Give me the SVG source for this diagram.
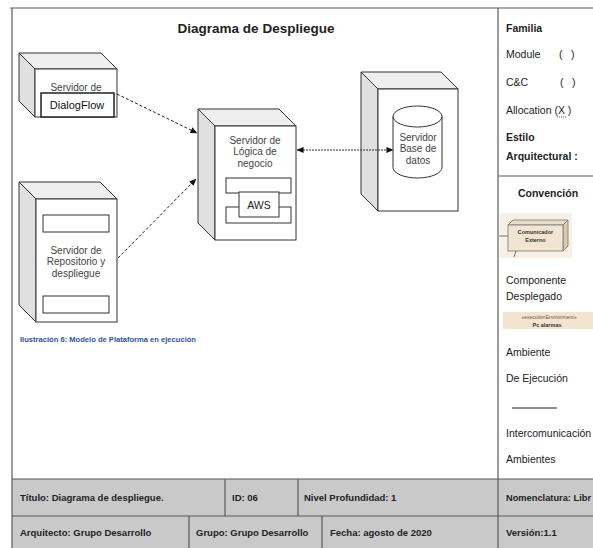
<svg xmlns="http://www.w3.org/2000/svg" width="593" height="548" viewBox="0 0 593 548">
<style>
.frame{fill:none;stroke:#5a5a5a;stroke-width:1.2}
.front{fill:#fff;stroke:#333;stroke-width:1}
.top{fill:#efefef;stroke:#333;stroke-width:1}
.side{fill:#e0e0e0;stroke:#333;stroke-width:1}
.box{fill:#fff;stroke:#333;stroke-width:1}
.nt{font-family:"Liberation Sans",Arial,sans-serif;font-size:10px;fill:#444;text-anchor:middle}
.rt{font-family:"Liberation Sans",Arial,sans-serif;font-size:10.5px;fill:#222}
.rb{font-family:"Liberation Sans",Arial,sans-serif;font-size:10.5px;fill:#222;font-weight:bold}
.tb{font-family:"Liberation Sans",Arial,sans-serif;font-size:9.5px;fill:#222;font-weight:bold}
.conn{fill:none;stroke:#222;stroke-width:1;stroke-dasharray:3,2}
</style>
<defs>
<marker id="arr" viewBox="0 0 8 8" refX="7.5" refY="4" markerWidth="7" markerHeight="7" orient="auto-start-reverse" markerUnits="userSpaceOnUse">
<path d="M0,0.5 L8,4 L0,7.5 Z" fill="#111"/>
</marker>
</defs>
<rect x="0" y="0" width="593" height="548" fill="#fff"/>

<!-- frame and table -->
<g id="frame">
<rect x="12" y="479" width="581" height="69" fill="#c9c9c9"/>
<line class="frame" x1="10" y1="8" x2="593" y2="8"/>
<line class="frame" x1="12" y1="8" x2="12" y2="548"/>
<line class="frame" x1="498" y1="8" x2="498" y2="548"/>
<line class="frame" x1="498" y1="176" x2="593" y2="176"/>
<line class="frame" x1="12" y1="479" x2="593" y2="479"/>
<line class="frame" x1="12" y1="516" x2="593" y2="516"/>
<line class="frame" x1="225" y1="479" x2="225" y2="516"/>
<line class="frame" x1="298" y1="479" x2="298" y2="516"/>
<line class="frame" x1="189" y1="516" x2="189" y2="548"/>
<line class="frame" x1="322" y1="516" x2="322" y2="548"/>
</g>

<text x="256" y="33" font-family="Liberation Sans,Arial,sans-serif" font-size="13.5" font-weight="bold" fill="#222" text-anchor="middle">Diagrama de Despliegue</text>

<!-- Servidor de DialogFlow -->
<g id="node-dialogflow">
<polygon class="top" points="19,53 101,53 117,69 35,69"/>
<polygon class="side" points="19,53 35,69 35,117 19,101"/>
<rect class="front" x="35" y="69" width="82" height="48"/>
<text class="nt" x="76" y="91">Servidor de</text>
<rect x="41" y="93" width="73" height="24" fill="#fff" stroke="#222" stroke-width="1.5"/>
<text x="77" y="109" font-family="Liberation Sans,Arial,sans-serif" font-size="11" fill="#111" text-anchor="middle">DialogFlow</text>
</g>

<!-- Servidor de Repositorio y despliegue -->
<g id="node-repositorio">
<polygon class="top" points="19,182 100,182 117,199 36,199"/>
<polygon class="side" points="19,182 36,199 36,322 19,305"/>
<rect class="front" x="36" y="199" width="81" height="123"/>
<rect class="box" x="43" y="215" width="66" height="17"/>
<text class="nt" x="76" y="253.5">Servidor de</text>
<text class="nt" x="76" y="265">Repositorio y</text>
<text class="nt" x="76" y="276.5">despliegue</text>
<rect class="box" x="43" y="296" width="66" height="17"/>
</g>

<!-- Servidor de Logica de negocio -->
<g id="node-logica">
<polygon class="top" points="198,109 279,109 296,126 215,126"/>
<polygon class="side" points="198,109 215,126 215,240 198,223"/>
<rect class="front" x="215" y="126" width="81" height="114"/>
<text class="nt" x="255" y="143.5">Servidor de</text>
<text class="nt" x="255" y="155">Lógica de</text>
<text class="nt" x="255" y="166.5">negocio</text>
<rect class="box" x="226" y="178" width="65" height="15"/>
<rect class="box" x="226" y="207" width="65" height="16"/>
<rect class="box" x="239" y="192" width="40" height="25"/>
<text x="259" y="208.5" font-family="Liberation Sans,Arial,sans-serif" font-size="10.5" fill="#222" text-anchor="middle">AWS</text>
</g>

<!-- Servidor Base de datos -->
<g id="node-basedatos">
<polygon class="top" points="361,72 441,72 458,89 378,89"/>
<polygon class="side" points="361,72 378,89 378,211 361,194"/>
<rect class="front" x="378" y="89" width="80" height="122"/>
<path d="M393,116.5 L393,167.5 A24.5,10.5 0 0 0 442,167.5 L442,116.5 A24.5,10.5 0 0 0 393,116.5 Z" fill="#fff" stroke="#333"/>
<path d="M393,116.5 A24.5,10.5 0 0 0 442,116.5" fill="none" stroke="#333"/>
<text class="nt" x="418" y="140.5">Servidor</text>
<text class="nt" x="418" y="152">Base de</text>
<text class="nt" x="418" y="163.5">datos</text>
</g>

<!-- connectors -->
<g id="connectors">
<line class="conn" x1="117" y1="94" x2="197" y2="133" marker-end="url(#arr)"/>
<line class="conn" x1="118" y1="258" x2="196" y2="179" marker-end="url(#arr)"/>
<line x1="297" y1="150" x2="393" y2="150" stroke="#333" stroke-width="1" stroke-dasharray="2,1" marker-start="url(#arr)" marker-end="url(#arr)"/>
</g>

<text x="20" y="342" font-family="Liberation Sans,Arial,sans-serif" font-size="7.5" font-weight="bold" fill="#2f5496" textLength="176" lengthAdjust="spacingAndGlyphs">Ilustración 6: Modelo de Plataforma en ejecución</text>

<!-- right column -->
<g id="legend">
<text class="rb" x="506" y="32">Familia</text>
<text class="rt" x="506" y="58">Module</text>
<text class="rt" x="559" y="58">(</text>
<text class="rt" x="571" y="58">)</text>
<text class="rt" x="506" y="86">C&amp;C</text>
<text class="rt" x="560" y="86">(</text>
<text class="rt" x="572" y="86">)</text>
<text class="rt" x="506" y="114">Allocation (X )</text>
<line x1="557" y1="117" x2="566" y2="117" stroke="#3a6fd0" stroke-width="1" stroke-dasharray="1,1"/>
<text class="rb" x="506" y="141">Estilo</text>
<text class="rb" x="506" y="160">Arquitectural :</text>
<text class="rb" x="548" y="197" text-anchor="middle">Convención</text>

<g id="icon-comunicador">
<rect x="500" y="213" width="72" height="45" fill="#f8efe5"/>
<polygon points="508,225 513,220 568,220 563,225" fill="#eadcc6" stroke="#777" stroke-width="0.8"/>
<polygon points="563,225 568,220 568,246 563,251" fill="#dccab0" stroke="#777" stroke-width="0.8"/>
<rect x="508" y="225" width="55" height="26" fill="#f1e4d0" stroke="#777" stroke-width="0.8"/>
<text x="535.5" y="234" font-family="Liberation Sans,Arial,sans-serif" font-size="5.5" font-weight="bold" fill="#333" text-anchor="middle">Comunicador</text>
<text x="535.5" y="242" font-family="Liberation Sans,Arial,sans-serif" font-size="5.5" font-weight="bold" fill="#333" text-anchor="middle">Externo</text>
<line x1="499" y1="236" x2="508" y2="236" stroke="#555" stroke-width="0.8"/>
<line x1="516" y1="251" x2="514" y2="257" stroke="#555" stroke-width="0.8"/>
</g>

<text class="rt" x="506" y="284">Componente</text>
<text class="rt" x="506" y="300">Desplegado</text>

<g id="icon-execenv">
<rect x="503" y="312" width="90" height="17" fill="#f3e4d2"/>
<text x="549" y="318.5" font-family="Liberation Sans,Arial,sans-serif" font-size="5" fill="#7a5636" text-anchor="middle">«executionEnvironment»</text>
<text x="547" y="326.5" font-family="Liberation Sans,Arial,sans-serif" font-size="5.5" font-weight="bold" fill="#333" text-anchor="middle">Pc alarmas</text>
</g>

<text class="rt" x="506" y="356">Ambiente</text>
<text class="rt" x="506" y="382">De Ejecución</text>
<line x1="512" y1="408" x2="557" y2="408" stroke="#222" stroke-width="1"/>
<text class="rt" x="506" y="437">Intercomunicación</text>
<text class="rt" x="506" y="463">Ambientes</text>
</g>

<!-- table text -->
<g id="table-text">
<text class="tb" x="20" y="500.5">Título: Diagrama de despliegue.</text>
<text class="tb" x="232" y="500.5">ID: 06</text>
<text class="tb" x="304" y="500.5">Nivel Profundidad: 1</text>
<text class="tb" x="506" y="500.5" textLength="85" lengthAdjust="spacingAndGlyphs">Nomenclatura: Libr</text>
<text class="tb" x="20" y="535.5">Arquitecto: Grupo Desarrollo</text>
<text class="tb" x="196" y="535.5">Grupo: Grupo Desarrollo</text>
<text class="tb" x="330" y="535.5">Fecha: agosto de 2020</text>
<text class="tb" x="506" y="535.5">Versión:1.1</text>
</g>
</svg>
